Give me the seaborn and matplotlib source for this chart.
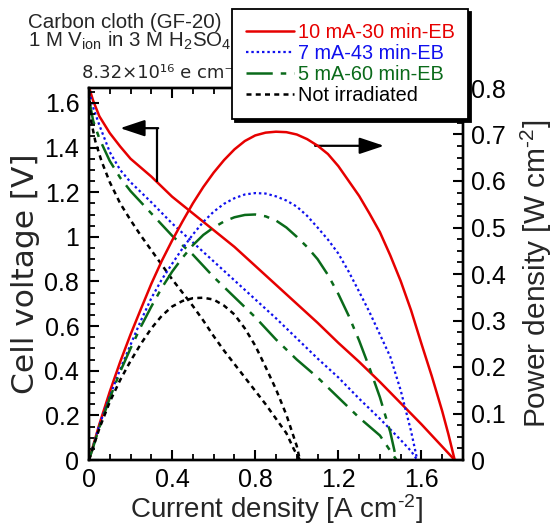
import numpy as np
import pandas as pd
import matplotlib
matplotlib.use("Agg")
import matplotlib.pyplot as plt
import matplotlib.ticker as mticker
import seaborn as sns

# -------------------------
# DATA
# -------------------------

# 10 mA-30 min-EB
jv_10mA = [0, 0.02, 0.05, 0.1, 0.15, 0.2, 0.3, 0.4, 0.5, 0.6, 0.7, 0.8, 0.9, 1.0, 1.1, 1.2, 1.3, 1.4, 1.5, 1.6, 1.7, 1.76]
v_10mA = [1.67, 1.61, 1.54, 1.465, 1.405, 1.35, 1.27, 1.18, 1.105, 1.03, 0.955, 0.87, 0.785, 0.70, 0.615, 0.525, 0.44, 0.35, 0.255, 0.16, 0.06, 0.0]
jp_10mA = [0, 0.05, 0.1, 0.15, 0.2, 0.25, 0.3, 0.35, 0.4, 0.45, 0.5, 0.55, 0.6, 0.65, 0.7, 0.75, 0.8, 0.85,
           0.9, 0.95, 1.0, 1.05, 1.1, 1.15, 1.2, 1.25, 1.3, 1.35, 1.4, 1.45, 1.5, 1.55, 1.6, 1.65, 1.7, 1.73, 1.76]
p_10mA = [0, 0.077, 0.147, 0.211, 0.27, 0.325, 0.379, 0.428, 0.472, 0.513, 0.552, 0.587, 0.618, 0.645, 0.668, 0.686, 0.698, 0.704,
          0.706, 0.705, 0.70, 0.69, 0.676, 0.658, 0.632, 0.60, 0.568, 0.53, 0.49, 0.44, 0.385, 0.322, 0.25, 0.18, 0.105, 0.055, 0]

# 7 mA-43 min-EB
jv_7mA = [0, 0.02, 0.05, 0.1, 0.15, 0.2, 0.25, 0.3, 0.4, 0.5, 0.6, 0.7, 0.8, 0.9, 1.0, 1.1, 1.2, 1.3, 1.4, 1.5, 1.55, 1.58]
v_7mA = [1.65, 1.58, 1.50, 1.38, 1.30, 1.245, 1.20, 1.155, 1.06, 0.975, 0.89, 0.805, 0.72, 0.635, 0.545, 0.455, 0.37, 0.275, 0.185, 0.09, 0.04, 0.0]
jp_7mA = [0, 0.05, 0.1, 0.15, 0.2, 0.25, 0.3, 0.35, 0.4, 0.45, 0.5, 0.55, 0.6, 0.65, 0.7, 0.75, 0.8, 0.85,
          0.9, 0.95, 1.0, 1.05, 1.1, 1.15, 1.2, 1.25, 1.3, 1.35, 1.4, 1.45, 1.5, 1.55, 1.58]
p_7mA = [0, 0.075, 0.137, 0.195, 0.248, 0.30, 0.348, 0.388, 0.422, 0.455, 0.485, 0.512, 0.534, 0.551, 0.563, 0.571, 0.574, 0.573,
         0.567, 0.558, 0.545, 0.525, 0.50, 0.474, 0.444, 0.405, 0.362, 0.318, 0.27, 0.222, 0.15, 0.062, 0]

# 5 mA-60 min-EB
jv_5mA = [0, 0.02, 0.05, 0.1, 0.15, 0.2, 0.3, 0.4, 0.5, 0.6, 0.7, 0.8, 0.9, 1.0, 1.1, 1.2, 1.3, 1.4, 1.48]
v_5mA = [1.62, 1.52, 1.44, 1.34, 1.265, 1.205, 1.105, 1.005, 0.92, 0.82, 0.73, 0.64, 0.54, 0.45, 0.37, 0.28, 0.19, 0.11, 0.0]
jp_5mA = [0, 0.05, 0.1, 0.15, 0.2, 0.25, 0.3, 0.35, 0.4, 0.45, 0.5, 0.55, 0.6, 0.65, 0.7, 0.75, 0.8, 0.85,
          0.9, 0.95, 1.0, 1.05, 1.1, 1.15, 1.2, 1.25, 1.3, 1.35, 1.4, 1.45, 1.48]
p_5mA = [0, 0.07, 0.133, 0.19, 0.24, 0.287, 0.33, 0.37, 0.405, 0.435, 0.462, 0.484, 0.50, 0.513, 0.522, 0.527, 0.528, 0.524,
         0.515, 0.50, 0.48, 0.458, 0.432, 0.398, 0.357, 0.31, 0.257, 0.198, 0.135, 0.06, 0]

# Not irradiated
jv_ref = [0, 0.01, 0.03, 0.06, 0.1, 0.15, 0.2, 0.25, 0.3, 0.35, 0.4, 0.45, 0.5, 0.55, 0.6, 0.65, 0.7, 0.75, 0.8, 0.85, 0.9, 0.95, 0.985, 1.015]
v_ref = [1.65, 1.52, 1.43, 1.34, 1.245, 1.15, 1.075, 1.005, 0.94, 0.875, 0.81, 0.75, 0.69, 0.625, 0.555, 0.49, 0.43, 0.37, 0.31, 0.25, 0.185, 0.12, 0.05, 0.0]
jp_ref = [0, 0.05, 0.1, 0.15, 0.2, 0.25, 0.3, 0.35, 0.4, 0.45, 0.5, 0.55, 0.6, 0.65, 0.7, 0.75, 0.8, 0.85, 0.9, 0.95, 1.0, 1.015]
p_ref = [0, 0.068, 0.125, 0.172, 0.213, 0.25, 0.283, 0.31, 0.33, 0.342, 0.348, 0.349, 0.345, 0.332, 0.313, 0.283, 0.246, 0.20, 0.152, 0.097, 0.03, 0]

labels = ["10 mA-30 min-EB", "7 mA-43 min-EB", "5 mA-60 min-EB", "Not irradiated"]
colors = ["#e60000", "#1010ee", "#0a6a1a", "#000000"]
styles = ["-", (0, (1.1, 1.3)), (0, (10.5, 3.2, 2.2, 3.2)), (0, (2.0, 1.7))]
widths = [1.8, 1.6, 1.8, 1.8]

voltage_sets = [(jv_10mA, v_10mA), (jv_7mA, v_7mA), (jv_5mA, v_5mA), (jv_ref, v_ref)]
power_sets = [(jp_10mA, p_10mA), (jp_7mA, p_7mA), (jp_5mA, p_5mA), (jp_ref, p_ref)]

# -------------------------
# STYLE
# -------------------------

sns.set_theme(style="white", rc={"xtick.color": "black", "ytick.color": "black",
                                 "axes.edgecolor": "black", "axes.axisbelow": False})
plt.rcParams["font.family"] = ["Liberation Sans", "DejaVu Sans"]
plt.rcParams["mathtext.fontset"] = "custom"
plt.rcParams["mathtext.rm"] = "Liberation Sans"
plt.rcParams["mathtext.it"] = "Liberation Sans:italic"

fig = plt.figure(figsize=(5.53, 5.26), dpi=100)
ax = fig.add_axes([89 / 553, 1 - 460 / 526, 374 / 553, 372 / 526])
ax2 = ax.twinx()
ax.set_axisbelow(False)
ax2.set_axisbelow(False)

for (j, v), (jp, p), lab, c, ls, lw in zip(voltage_sets, power_sets, labels, colors, styles, widths):
    sns.lineplot(x=j, y=v, ax=ax, color=c, linestyle=ls, linewidth=lw, estimator=None, sort=False, label=lab)
    sns.lineplot(x=jp, y=p, ax=ax2, color=c, linestyle=ls, linewidth=lw, estimator=None, sort=False)

for a in (ax, ax2):
    if a.get_legend() is not None:
        a.get_legend().remove()

ax.set_xlim(0, 1.8)
ax.set_ylim(0, 1.667)
ax2.set_ylim(0, 0.8)

ax.set_xticks(np.arange(0, 1.61, 0.4))
ax.set_xticks(np.arange(0, 1.81, 0.1), minor=True)
ax.set_yticks(np.arange(0, 1.61, 0.2))
ax.set_yticks(np.arange(0, 1.66, 0.05), minor=True)
ax2.set_yticks(np.arange(0, 0.81, 0.1))
ax2.set_yticks(np.arange(0, 0.81, 0.025), minor=True)

fmt = mticker.FuncFormatter(lambda v, pos: f"{v:g}")
ax.xaxis.set_major_formatter(fmt)
ax.yaxis.set_major_formatter(fmt)
ax2.yaxis.set_major_formatter(fmt)

ax.tick_params(axis="x", which="both", direction="in", top=True, bottom=True, labelsize=18, pad=6)
ax.tick_params(axis="y", which="both", direction="in", left=True, right=False, labelsize=18, pad=7)
ax2.tick_params(axis="y", which="both", direction="in", right=True, left=False, labelsize=18, pad=6)
for a in (ax, ax2):
    a.tick_params(which="major", length=7, width=1.5, color="black")
    a.tick_params(which="minor", length=4, width=1.3, color="black")
    for s in a.spines.values():
        s.set_linewidth(1.7)
        s.set_color("black")

ax.set_xlabel("Current density [A cm$^{\\text{-2}}$]", fontsize=20, labelpad=0)
ax.set_ylabel("Cell voltage [V]", fontsize=22.5, family=["DejaVu Sans"], labelpad=3)
ax2.set_ylabel("Power density [W cm$^{\\text{-2}}$]", fontsize=21.5, labelpad=9)

# arrows pointing to each axis
arrow_kw = dict(arrowstyle="-|>,head_length=1.5,head_width=0.5", color="black", lw=1.6,
                shrinkA=0, shrinkB=0, mutation_scale=10)
ax.plot([0.326, 0.326], [1.248, 1.487], color="black", lw=1.6, solid_capstyle="butt")
ax.annotate("", xy=(0.15, 1.487), xytext=(0.333, 1.487), arrowprops=arrow_kw)
ax.annotate("", xy=(1.42, 1.408), xytext=(1.088, 1.408), arrowprops=arrow_kw)

# sample description
fig.text(28 / 553, 1 - 28 / 526, "Carbon cloth (GF-20)", fontsize=14.8, va="baseline")
fig.text(28 / 553, 1 - 47 / 526, "1 M V$_{\\mathrm{ion}}$ in 3 M H$_2$SO$_4$", fontsize=14.8, va="baseline")
fig.text(82 / 553, 1 - 78 / 526, "8.32\u00d710\u00b9\u2076 e cm\u207b\u00b2", fontsize=13,
         family=["DejaVu Sans"], va="baseline")

h1, l1 = ax.get_legend_handles_labels()
leg = fig.legend(h1, l1, loc="upper left", bbox_to_anchor=(232 / 553, 1 - 9 / 526),
                 bbox_transform=fig.transFigure, borderaxespad=0, fontsize=14.3,
                 frameon=True, fancybox=False, shadow={"color": "black", "alpha": 1},
                 edgecolor="black", framealpha=1, handlelength=2.4, handletextpad=0.2,
                 labelspacing=0.1, borderpad=0.7, labelcolor="linecolor")
leg.get_frame().set_linewidth(1.3)
leg.set_zorder(10)

fig.savefig("out.png", dpi=100)
